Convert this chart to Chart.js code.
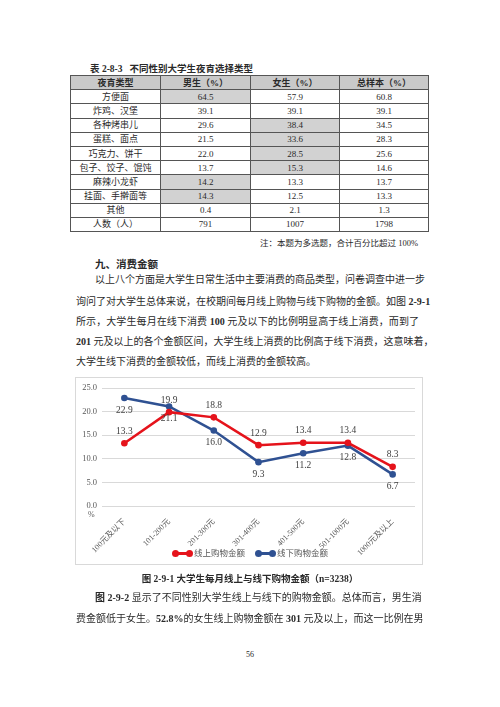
<!DOCTYPE html>
<html lang="zh">
<head>
<meta charset="UTF-8">
<title>大学生每月线上与线下购物金额</title>
<script src="https://cdn.jsdelivr.net/npm/chart.js"></script>
<style>
  html, body {
    margin: 0;
    padding: 0;
    background: #fff;
  }
  body {
    width: 500px;
    height: 707px;
    position: relative;
    overflow: hidden;
    font-family: "Liberation Serif", "Noto Sans CJK SC", serif;
    color: #2a2a2a;
  }
  .abs { position: absolute; }
  .table-title {
    left: 90px; top: 61px;
    font-size: 9.5px; font-weight: bold;
    white-space: pre;
  }
  #tabela {
    left: 70px; top: 75px;
    width: 358px;
    border-collapse: collapse;
    table-layout: fixed;
    font-size: 9px;
  }
  #tabela td, #tabela th {
    border: 1px solid #555;
    height: 13.2px;
    padding: 0;
    text-align: center;
    font-weight: normal;
    line-height: 12px;
  }
  #tabela th { background: #c9c9c9; font-weight: bold; }
  #tabela td.hl { background: #d2d2d2; }
  .note { right: 82px; top: 236px; font-size: 8.5px; }
  .heading { left: 95px; top: 256px; font-size: 10.5px; font-weight: bold; }
  .line {
    left: 76px; width: 343px;
    font-size: 10px; line-height: 14px; height: 14px;
    text-align: justify; text-align-last: justify;
    white-space: nowrap;
  }
  .line.first { left: 95px; width: 324px; }
  .chart-box {
    left: 75px; top: 377px;
    width: 348px; height: 188px;
    border: 1px solid #d9d9d9;
    box-sizing: border-box;
  }
  .pct { left: 88px; top: 510px; font-size: 8px; color: #595959; }
  #legenda {
    left: 0; width: 500px; top: 547px;
    text-align: center; font-size: 8.5px; color: #595959;
    line-height: 12px;
  }
  #legenda .item { display: inline-block; margin: 0 5px; }
  #legenda .amostra {
    display: inline-block; position: relative;
    width: 21px; height: 8px; vertical-align: -1px; margin-right: 1px;
  }
  #legenda .amostra i {
    position: absolute; left: 3px; right: 3px; top: 3px; height: 2.5px;
  }
  #legenda .amostra b {
    position: absolute; top: 0.5px; width: 7px; height: 7px; border-radius: 50%;
  }
  .caption {
    left: 0; width: 500px; top: 571px;
    text-align: center; font-size: 9.5px; font-weight: bold;
  }
  .pageno { left: 0; width: 500px; top: 650px; text-align: center; font-size: 8px; }
</style>
</head>
<body>

<div class="abs table-title">表 2-8-3   不同性别大学生夜宵选择类型</div>
<table id="tabela" class="abs">
  <colgroup><col style="width:90px"><col style="width:90px"><col style="width:89px"><col style="width:89px"></colgroup>
</table>
<div class="abs note">注：本题为多选题，合计百分比超过 100%</div>

<div class="abs heading">九、消费金额</div>
<div class="abs line first" style="top:273px">以上八个方面是大学生日常生活中主要消费的商品类型，问卷调查中进一步</div>
<div class="abs line" style="top:295px">询问了对大学生总体来说，在校期间每月线上购物与线下购物的金额。如图 <b>2-9-1</b></div>
<div class="abs line" style="top:315px">所示，大学生每月在线下消费 <b>100</b> 元及以下的比例明显高于线上消费，而到了</div>
<div class="abs line" style="top:335px"><b>201</b> 元及以上的各个金额区间，大学生线上消费的比例高于线下消费，这意味着，</div>
<div class="abs line" style="top:355px; text-align-last:left">大学生线下消费的金额较低，而线上消费的金额较高。</div>

<div class="abs chart-box"><canvas id="myChart"></canvas></div>
<div class="abs pct">%</div>
<div class="abs" id="legenda"></div>

<div class="abs caption">图 2-9-1 大学生每月线上与线下购物金额（n=3238）</div>
<div class="abs line first" style="top:591px"><b>图 2-9-2</b> 显示了不同性别大学生线上与线下的购物金额。总体而言，男生消</div>
<div class="abs line" style="top:612px">费金额低于女生。<b>52.8%</b>的女生线上购物金额在 <b>301</b> 元及以上，而这一比例在男</div>
<div class="abs pageno">56</div>

<script>
  // tabela 2-8-3
  const tipos_lanche = ['方便面', '炸鸡、汉堡', '各种烤串儿', '蛋糕、面点', '巧克力、饼干', '包子、饺子、馄饨', '麻辣小龙虾', '挂面、手擀面等', '其他', '人数（人）'];
  const masculino = ['64.5', '39.1', '29.6', '21.5', '22.0', '13.7', '14.2', '14.3', '0.4', '791'];
  const feminino = ['57.9', '39.1', '38.4', '33.6', '28.5', '15.3', '13.3', '12.5', '2.1', '1007'];
  const total = ['60.8', '39.1', '34.5', '28.3', '25.6', '14.6', '13.7', '13.3', '1.3', '1798'];
  const destaque_masc = [0, 6, 7];
  const destaque_fem = [2, 3, 4, 5];

  // grafico 2-9-1
  const faixas = ['100元及以下', '101-200元', '201-300元', '301-400元', '401-500元', '501-1000元', '1000元及以上'];
  const compras_online = [13.3, 19.9, 18.8, 12.9, 13.4, 13.4, 8.3];
  const compras_offline = [22.9, 21.1, 16.0, 9.3, 11.2, 12.8, 6.7];
  const y_max = 25;
  const y_passo = 5;

  const tabela = document.getElementById('tabela');
  tabela.innerHTML += `<tr><th>夜宵类型</th><th>男生（%）</th><th>女生（%）</th><th>总样本（%）</th></tr>`;
  for (let i = 0; i < tipos_lanche.length; i++) {
    tabela.innerHTML += `<tr>
      <td>${tipos_lanche[i]}</td>
      <td class="${destaque_masc.includes(i) ? 'hl' : ''}">${masculino[i]}</td>
      <td class="${destaque_fem.includes(i) ? 'hl' : ''}">${feminino[i]}</td>
      <td>${total[i]}</td>
    </tr>`;
  }

  const VERMELHO = '#e5131b';
  const AZUL = '#2f5192';

  const rotulos = {
    id: 'rotulos',
    afterDatasetsDraw(chart) {
      const ctx = chart.ctx;
      ctx.save();
      ctx.font = '9.5px "Liberation Serif"';
      ctx.fillStyle = '#404040';
      ctx.textAlign = 'center';
      ctx.textBaseline = 'middle';
      chart.data.datasets.forEach((ds, i) => {
        chart.getDatasetMeta(i).data.forEach((pt, j) => {
          ctx.fillText(ds.data[j].toFixed(1), pt.x, pt.y + ds.deslocamento);
        });
      });
      ctx.restore();
    }
  };

  Chart.defaults.font.family = '"Liberation Serif", "Noto Sans CJK SC"';
  Chart.defaults.color = '#595959';

  const grafico = new Chart(document.getElementById('myChart'), {
    type: 'line',
    data: {
      labels: faixas,
      datasets: [{
        label: '线上购物金额',
        data: compras_online,
        borderColor: VERMELHO,
        backgroundColor: VERMELHO,
        borderWidth: 2.5,
        pointRadius: 3.3,
        pointBorderWidth: 0,
        deslocamento: -12
      }, {
        label: '线下购物金额',
        data: compras_offline,
        borderColor: AZUL,
        backgroundColor: AZUL,
        borderWidth: 2.5,
        pointRadius: 3.3,
        pointBorderWidth: 0,
        deslocamento: 12
      }]
    },
    options: {
      responsive: true,
      maintainAspectRatio: false,
      animation: false,
      layout: { padding: { top: 7, left: 6, right: 7, bottom: 0 } },
      elements: { line: { tension: 0 } },
      plugins: {
        tooltip: { enabled: false },
        legend: { display: false }
      },
      scales: {
        x: {
          offset: true,
          grid: { display: false },
          border: { display: false },
          ticks: { minRotation: 45, maxRotation: 45, padding: 3, font: { size: 8 } },
          afterFit(scale) { scale.height = 58; }
        },
        y: {
          min: 0,
          max: y_max,
          grid: { color: '#d9d9d9', drawTicks: false },
          border: { display: false },
          ticks: {
            stepSize: y_passo,
            padding: 5,
            font: { size: 8.5 },
            callback: v => v.toFixed(1)
          },
          afterFit(scale) { scale.width = 20; }
        }
      }
    },
    plugins: [rotulos]
  });

  // legenda em html, feita a partir dos datasets
  const legenda = document.getElementById('legenda');
  grafico.data.datasets.forEach(ds => {
    legenda.innerHTML += `<span class="item"><span class="amostra">
      <i style="background:${ds.borderColor}"></i>
      <b style="left:0;background:${ds.borderColor}"></b>
      <b style="right:0;background:${ds.borderColor}"></b>
    </span>${ds.label}</span>`;
  });
</script>
</body>
</html>
